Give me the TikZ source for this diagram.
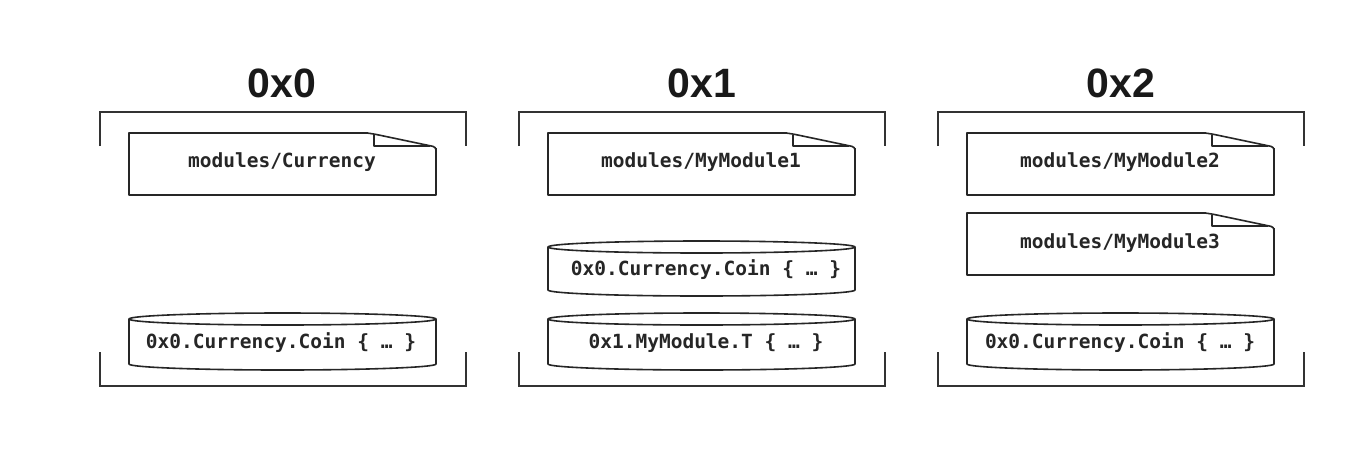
\documentclass[tikz,border=0pt]{standalone}
\usepackage{fontspec}
\setmainfont{Liberation Sans}
\setmonofont{DejaVu Sans Mono}
\tikzset{
  shp/.style={draw=black!85, line width=1.6pt, line join=round},
  brk/.style={draw=black!80, line width=1.4pt},
  ttl/.style={font=\bfseries\fontsize{41}{41}\selectfont, text=black!90, inner sep=0pt},
  lbl/.style={font=\ttfamily\bfseries\fontsize{19.5}{20}\selectfont, text=black!85, inner sep=0pt}
}
% doc shape: x1 y1 x2 y2
\newcommand{\mydoc}[4]{%
  \draw[shp] (#3-68,#2) -- (#1,#2) -- (#1,#4) -- (#3,#4) -- (#3,#2+15);
  \draw[shp, rounded corners=3pt] (#3-69,#2) -- (#3-62,#2+1) -- (#3,#2+14) -- (#3,#2+17);
  \draw[shp] (#3-62,#2+1.5) -- (#3-62,#2+13) -- (#3-6,#2+13);
}
% cylinder: x1 x2 ytop ybottom
\newcommand{\mycyl}[4]{%
  \draw[shp] ({(#1+#2)/2},#3) ellipse [x radius={(#2-#1)/2}, y radius=6];
  \draw[shp] (#1,#3) -- (#1,#4) arc [start angle=180, end angle=0, x radius={(#2-#1)/2}, y radius=6] -- (#2,#3);
}
% bracket: x1 x2
\newcommand{\mybrk}[2]{%
  \draw[brk] (#1,146) -- (#1,112) -- (#2,112) -- (#2,146);
  \draw[brk] (#1,352) -- (#1,386) -- (#2,386) -- (#2,352);
}
\begin{document}
\begin{tikzpicture}[x=1pt, y=-1pt]
\useasboundingbox[fill=white] (0,0) rectangle (1364,464);

% panel 0x0
\mybrk{100}{466}
\node[ttl] (t0) at (282,83) {0x0};
\mydoc{129}{133}{436}{195}
\node[lbl] (d0) at (282,162) {modules/Currency};
\mycyl{129}{436}{319}{364}
\node[lbl] (c0) at (281,343) {0x0.Currency.Coin \{ … \}};

% panel 0x1
\mybrk{519}{885}
\node[ttl] (t1) at (702,83) {0x1};
\mydoc{548}{133}{855}{195}
\node[lbl] (d1) at (701,162) {modules/MyModule1};
\mycyl{548}{855}{247}{290}
\node[lbl] (c1a) at (706,270) {0x0.Currency.Coin \{ … \}};
\mycyl{548}{855}{319}{364}
\node[lbl] (c1b) at (706,343) {0x1.MyModule.T \{ … \}};

% panel 0x2
\mybrk{938}{1304}
\node[ttl] (t2) at (1121,83) {0x2};
\mydoc{967}{133}{1274}{195}
\node[lbl] (d2a) at (1120,162) {modules/MyModule2};
\mydoc{967}{213}{1274}{275}
\node[lbl] (d2b) at (1120,243) {modules/MyModule3};
\mycyl{967}{1274}{319}{364}
\node[lbl] (c2) at (1120,343) {0x0.Currency.Coin \{ … \}};
\end{tikzpicture}
\end{document}
